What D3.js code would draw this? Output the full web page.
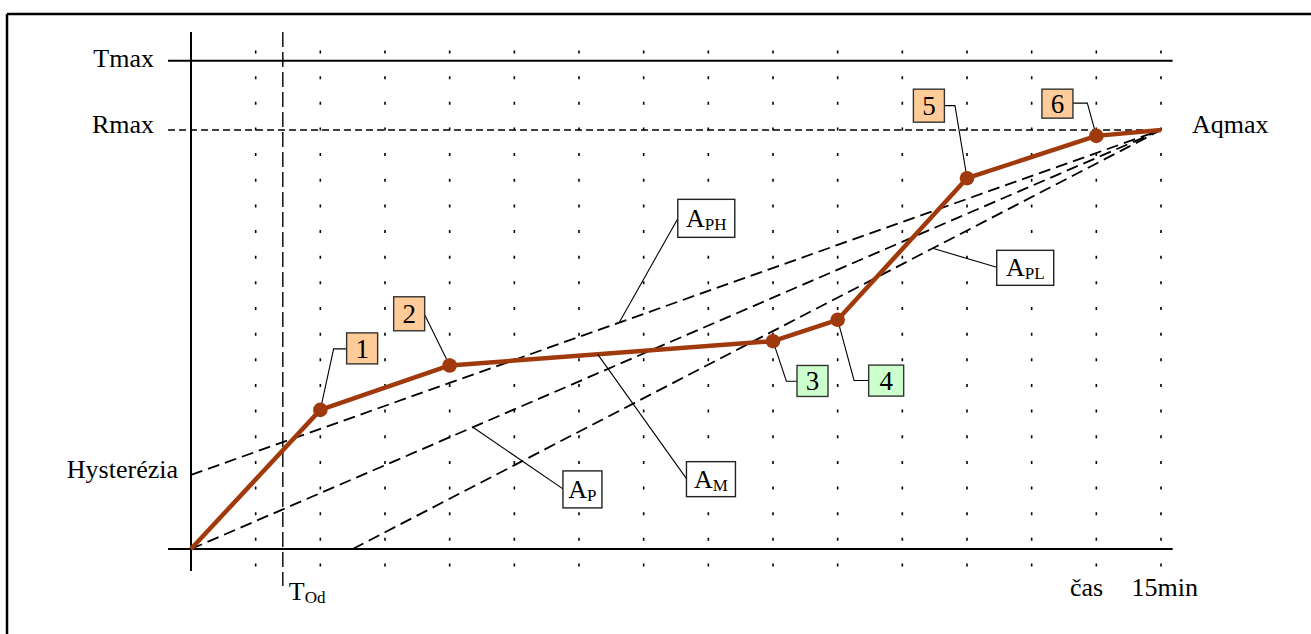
<!DOCTYPE html>
<html><head><meta charset="utf-8">
<script src="https://cdn.jsdelivr.net/npm/d3@7"></script>
<style>
body{margin:0;background:#fff;overflow:hidden}
text{font-family:"Liberation Serif","Times New Roman",serif;fill:#000}
</style>
</head><body><svg id="c" width="1311" height="634"></svg>
<script>
// ---------- data ----------
const gridMinutes = [1,2,3,4,5,6,7,8,9,10,11,12,13,14,15];
const levelNames = ["Tmax","Rmax","Hysterézia"];
const levelValues = [116.5,100,17.7];
const tOd = 1.42;
const measuredTime  = [0,2,4,9,10,12,14,15];
const measuredValue = [0,33.2,43.8,49.6,54.7,88.5,98.6,100];
const pointLabels = ["1","2","3","4","5","6"];
const pointKinds  = ["above","above","below","below","above","above"];
const refNames = ["PH","P","PL"];
const refStartTime  = [0,0,2.5];
const refStartValue = [17.7,0,0];
const refEndTime  = [15,15,15];
const refEndValue = [100,100,100];
const refLabelTime = [6.62,4.36,11.47];
const measuredLabelName = "M";
const measuredLabelTime = 6.29;
const endLabel = "Aqmax";
const timeLabels = ["čas","15min"];

// ---------- layout ----------
const svg = d3.select("#c");
const x = d3.scaleLinear().domain([0,15]).range([191,1161]);
const y = d3.scaleLinear().domain([0,100]).range([549,130]);
const brown = "#A03A0C";

// frame
svg.append("line").attr("x1",7).attr("x2",1311).attr("y1",14).attr("y2",14).attr("stroke","#000").attr("stroke-width",2.5);
svg.append("line").attr("x1",7).attr("x2",7).attr("y1",14).attr("y2",634).attr("stroke","#000").attr("stroke-width",2.5);

// vertical dotted grid
svg.append("g").selectAll("line").data(gridMinutes).join("line")
  .attr("x1",d=>x(d)).attr("x2",d=>x(d))
  .attr("y1",50.5).attr("y2",567)
  .attr("stroke","#000").attr("stroke-width",1.6)
  .attr("stroke-dasharray","3,22.65");

// horizontal level lines
const xl = x(-0.355), xr = x(15.18);
svg.append("line").attr("x1",xl).attr("x2",xr).attr("y1",y(levelValues[0])).attr("y2",y(levelValues[0]))
  .attr("stroke","#000").attr("stroke-width",2);
svg.append("line").attr("x1",xl).attr("x2",x(15)).attr("y1",y(levelValues[1])).attr("y2",y(levelValues[1]))
  .attr("stroke","#000").attr("stroke-width",1.7).attr("stroke-dasharray","7,4");
// time axis
svg.append("line").attr("x1",xl).attr("x2",xr).attr("y1",y(0)).attr("y2",y(0))
  .attr("stroke","#000").attr("stroke-width",2);
// value axis
svg.append("line").attr("x1",x(0)).attr("x2",x(0)).attr("y1",32).attr("y2",571)
  .attr("stroke","#000").attr("stroke-width",2);
// T_Od
svg.append("line").attr("x1",x(tOd)).attr("x2",x(tOd)).attr("y1",32).attr("y2",586)
  .attr("stroke","#000").attr("stroke-width",1.4).attr("stroke-dasharray","15,5");

// level labels
const levelDy = [5.7,3.3,3.3];
const levelRight = [154,154,178];
svg.append("g").selectAll("text").data(levelNames).join("text")
  .attr("x",(d,i)=>levelRight[i]).attr("y",(d,i)=>y(levelValues[i])+levelDy[i])
  .attr("text-anchor","end").attr("font-size",26).text(d=>d);
svg.append("text").attr("x",x(15)+31).attr("y",y(100)+3.3).attr("font-size",26).text(endLabel);

// T_Od label
const tl = svg.append("text").attr("x",x(tOd)+6).attr("y",600).attr("font-size",26);
tl.append("tspan").text("T");
tl.append("tspan").attr("font-size",17).attr("dy",3).text("Od");
// time labels
svg.append("text").attr("x",1070).attr("y",596).attr("font-size",26).text(timeLabels[0]);
svg.append("text").attr("x",1131.5).attr("y",596).attr("font-size",26).text(timeLabels[1]);

// reference dashed lines
svg.append("g").selectAll("line").data(refNames).join("line")
  .attr("x1",(d,i)=>x(refStartTime[i])).attr("y1",(d,i)=>y(refStartValue[i]))
  .attr("x2",(d,i)=>x(refEndTime[i])).attr("y2",(d,i)=>y(refEndValue[i]))
  .attr("stroke","#000").attr("stroke-width",1.8).attr("stroke-dasharray","12,6");

// measured line
const pts = measuredTime.map((t,i)=>[t,measuredValue[i]]);
svg.append("path").datum(pts)
  .attr("d",d3.line().x(d=>x(d[0])).y(d=>y(d[1])))
  .attr("fill","none").attr("stroke",brown).attr("stroke-width",4.5).attr("stroke-linejoin","round");

// numbered callouts (offsets in px relative to the point)
const numLayout = [
  {box:[26.3,-77,31,31], path:[[13.3,-61],[26.3,-61]]},
  {box:[-56,-68.7,31,34], path:[[-25,-50.7]]},
  {box:[24,24.3,31,31], path:[[13.4,40],[24,40]]},
  {box:[31,45.3,35,31], path:[[16.4,60.7],[31,60.7]]},
  {box:[-53.6,-89,31,33], path:[[-12,-72.6],[-22.6,-72.6]]},
  {box:[-54.4,-46.7,31,29], path:[[-9,-32.7],[-23.4,-32.7]]}
];
const callG = svg.append("g");
pointLabels.forEach((lab,i)=>{
  const px = x(measuredTime[i+1]), py = y(measuredValue[i+1]);
  const L = numLayout[i];
  const p = [[px,py]].concat(L.path.map(q=>[px+q[0],py+q[1]]));
  callG.append("path").attr("d",d3.line()(p)).attr("fill","none").attr("stroke","#000").attr("stroke-width",1.1);
  callG.append("rect").attr("x",px+L.box[0]).attr("y",py+L.box[1]).attr("width",L.box[2]).attr("height",L.box[3])
    .attr("fill",pointKinds[i]==="above"?"#FFCC99":"#CCFFCC").attr("stroke","#333").attr("stroke-width",1.4);
  callG.append("text").attr("x",px+L.box[0]+L.box[2]/2).attr("y",py+L.box[1]+L.box[3]/2+9.5)
    .attr("text-anchor","middle").attr("font-size",27).text(lab);
});
// dots
svg.append("g").selectAll("circle").data(pts.slice(1,7)).join("circle")
  .attr("cx",d=>x(d[0])).attr("cy",d=>y(d[1])).attr("r",7.3).attr("fill",brown);

// A-label callouts
function refValueAt(i,t){
  return refStartValue[i]+(t-refStartTime[i])/(refEndTime[i]-refStartTime[i])*(refEndValue[i]-refStartValue[i]);
}
function measuredAt(t){
  for(let k=0;k<measuredTime.length-1;k++){
    if(t>=measuredTime[k]&&t<=measuredTime[k+1]){
      return measuredValue[k]+(t-measuredTime[k])/(measuredTime[k+1]-measuredTime[k])*(measuredValue[k+1]-measuredValue[k]);
    }
  }
  return 0;
}
const aLayout = {
  PH:{box:[58.7,-123.3,57,38], end:[58.7,-104]},
  P:{box:[90,43.7,39,37], end:[90,61.7]},
  PL:{box:[64,2,57,35], end:[64,19]},
  M:{box:[88.7,107.3,49,35], end:[88.7,124.3]}
};
const anchors = refNames.map((n,i)=>({name:n, t:refLabelTime[i], v:refValueAt(i,refLabelTime[i])}));
anchors.push({name:measuredLabelName, t:measuredLabelTime, v:measuredAt(measuredLabelTime)});
const aG = svg.append("g");
anchors.forEach(a=>{
  const px=x(a.t), py=y(a.v), L=aLayout[a.name];
  aG.append("line").attr("x1",px).attr("y1",py).attr("x2",px+L.end[0]).attr("y2",py+L.end[1])
    .attr("stroke","#000").attr("stroke-width",1.1);
  aG.append("rect").attr("x",px+L.box[0]).attr("y",py+L.box[1]).attr("width",L.box[2]).attr("height",L.box[3])
    .attr("fill","#fff").attr("stroke","#222").attr("stroke-width",1.4);
  const t = aG.append("text").attr("x",px+L.box[0]+L.box[2]/2).attr("y",py+L.box[1]+L.box[3]/2+8.5)
    .attr("text-anchor","middle").attr("font-size",26);
  t.append("tspan").text("A");
  t.append("tspan").attr("font-size",17).attr("dy",3).text(a.name);
});
</script>
</body></html>
